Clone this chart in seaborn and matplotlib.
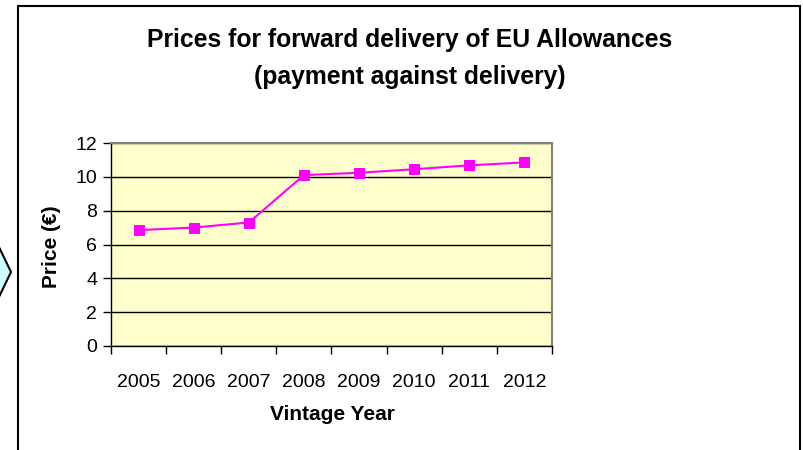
import matplotlib
matplotlib.use("Agg")
import matplotlib.pyplot as plt
import seaborn as sns
import pandas as pd
from matplotlib.patches import Rectangle, Polygon

years = ["2005", "2006", "2007", "2008", "2009", "2010", "2011", "2012"]
prices = [6.85, 7.0, 7.3, 10.1, 10.24, 10.45, 10.68, 10.85]
y_ticks = [0, 2, 4, 6, 8, 10, 12]

df = pd.DataFrame({"year": years, "price": prices})
df["pos"] = range(len(years))

sns.set_theme(style="white")
plt.rcParams["font.family"] = ["Liberation Sans", "DejaVu Sans"]
plt.rcParams["text.color"] = "black"
plt.rcParams["xtick.color"] = "black"
plt.rcParams["ytick.color"] = "black"
plt.rcParams["xtick.labelcolor"] = "black"
plt.rcParams["ytick.labelcolor"] = "black"

W, H = 804, 450
fig = plt.figure(figsize=(W / 100, H / 100), dpi=100)
fig.patch.set_facecolor("white")

# outer frame
fig.add_artist(Rectangle((18 / W, 0 - 0.01), (800 - 18) / W, (H - 6) / H + 0.01,
                         transform=fig.transFigure, fill=False, edgecolor="black",
                         linewidth=1.5))
# chevron at left edge
fig.add_artist(Polygon([(-2 / W, 1 - 245 / H), (11 / W, 1 - 272 / H), (-2 / W, 1 - 299 / H)],
                       closed=True, transform=fig.transFigure, facecolor="#CCFFFF",
                       edgecolor="black", linewidth=1.5))

ax = fig.add_axes([111 / W, 104 / H, (552 - 111) / W, (346 - 143) / H])
ax.set_facecolor("#FFFFCC")

for v in y_ticks:
    ax.axhline(v, color="black", linewidth=1.0, zorder=1)

sns.lineplot(data=df, x="pos", y="price", ax=ax, color="#FF00FF", linewidth=1.5,
             marker="s", markersize=7, markeredgecolor="#FF00FF", zorder=3)

ax.set_xlim(-0.5, len(years) - 0.5)
ax.set_ylim(0, 12)
ax.set_yticks(y_ticks)
ax.set_yticklabels([str(v) for v in y_ticks])
ax.set_xticks([i - 0.5 for i in range(len(years) + 1)])
ax.set_xticklabels([])
ax.set_xticks(list(df["pos"]), minor=True)
ax.set_xticklabels(years, minor=True)
ax.tick_params(axis="x", which="major", length=6, width=1, color="black", direction="out")
ax.tick_params(axis="x", which="minor", length=0, pad=20, labelsize=14, labelcolor="black")
ax.tick_params(axis="y", length=6, width=1, color="black", direction="out", pad=4,
               labelsize=14, labelcolor="black")
ax.xaxis.set_ticks_position("bottom")
ax.yaxis.set_ticks_position("left")

for s in ["top", "right"]:
    ax.spines[s].set_color("#808080")
    ax.spines[s].set_linewidth(1.5)
for s in ["left", "bottom"]:
    ax.spines[s].set_color("black")
    ax.spines[s].set_linewidth(1.0)

ax.set_xlabel("")
ax.set_ylabel("")

fig.text(410 / W, 1 - 40 / H, "Prices for forward delivery of EU Allowances",
         ha="center", va="center", fontsize=17.8, fontweight="bold", color="black")
fig.text(410 / W, 1 - 77 / H, "(payment against delivery)",
         ha="center", va="center", fontsize=17.8, fontweight="bold", color="black")
fig.text(332 / W, 1 - 415 / H, "Vintage Year", ha="center", va="center",
         fontsize=15, fontweight="bold", color="black")
fig.text(52 / W, 1 - 247 / H, "Price (€)", ha="center", va="center",
         fontsize=15, fontweight="bold", rotation=90, color="black")

fig.savefig("out.png", dpi=100, facecolor="white")
